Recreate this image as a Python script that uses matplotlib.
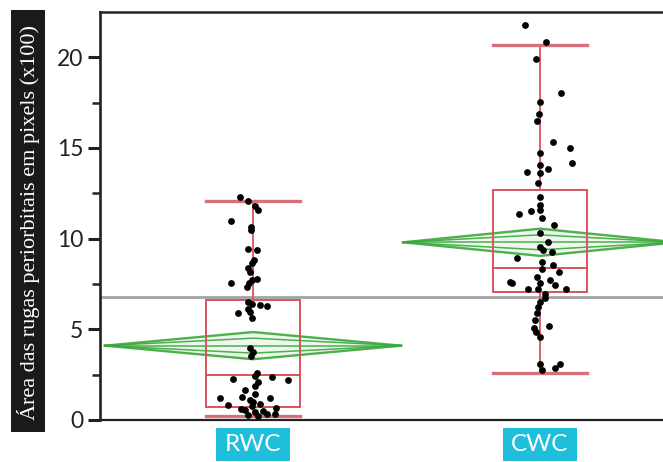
import numpy as np
import matplotlib.pyplot as plt
from matplotlib.patches import Rectangle

# groups
groups = ["RWC", "CWC"]

# box plot summary (x100 pixels)
q1 = [0.7, 7.05]
median = [2.5, 8.4]
q3 = [6.6, 12.7]
whisk_lo = [0.2, 2.6]
whisk_hi = [12.1, 20.7]

# means diamonds: mean and 95% CI half-width
means = [4.1, 9.8]
ci_half = [0.75, 0.75]
grand_mean = 6.8

# individual points (value, horizontal jitter in group units)
rwc_vals = [12.3, 12.1, 11.8, 11.6, 11.0, 10.65, 10.5, 9.45, 9.35, 8.85, 8.65, 8.4,
            8.15, 7.8, 7.55, 7.55, 7.35, 7.7, 6.5, 6.4, 6.35, 6.3, 6.1, 5.9, 5.95,
            5.6, 3.95, 3.75, 3.55, 2.6, 2.4, 2.25, 2.35, 2.2, 2.1, 1.85, 1.65, 1.45,
            1.25, 1.2, 1.1, 1.2, 0.9, 0.8, 0.75, 0.65, 0.55, 0.45, 0.35, 0.3, 0.2,
            0.35, 0.5, 0.6, 1.0]
rwc_jit = [-0.045, -0.017, 0.007, 0.017, -0.078, -0.007, -0.007, -0.017, 0.014, 0.003,
           -0.005, -0.017, -0.010, 0.013, -0.075, -0.014, -0.022, -0.005, -0.017, -0.003,
           0.024, 0.049, -0.017, -0.052, -0.010, -0.003, -0.010, 0.000, -0.007, 0.013,
           0.007, -0.069, 0.065, 0.123, 0.017, 0.007, -0.028, 0.007, -0.038, -0.115,
           -0.010, 0.059, 0.024, -0.087, -0.005, 0.080, -0.028, 0.007, 0.049, -0.017,
           0.017, 0.077, 0.035, -0.040, 0.000]
cwc_vals = [21.8, 20.85, 19.9, 18.05, 17.55, 16.9, 16.5, 15.35, 15.0, 14.7, 14.15,
            14.05, 13.85, 13.7, 13.6, 13.05, 12.3, 11.85, 11.35, 11.55, 11.6, 11.15,
            10.75, 10.3, 9.8, 9.55, 9.35, 9.25, 8.95, 8.7, 8.55, 8.35, 8.15, 7.9, 7.7,
            7.6, 7.55, 7.45, 7.25, 7.2, 7.25, 6.95, 6.75, 6.5, 6.25, 5.9, 5.5, 5.2,
            5.1, 4.85, 4.6, 3.1, 2.85, 3.1, 2.75, 7.55]
cwc_jit = [-0.052, 0.021, -0.014, 0.073, 0.000, -0.002, -0.009, 0.047, 0.105, 0.000,
           0.110, 0.000, 0.029, -0.046, 0.000, -0.006, 0.000, 0.000, -0.072, -0.033,
           0.000, 0.006, 0.050, 0.000, 0.029, 0.000, 0.012, 0.041, -0.079, 0.006,
           0.047, 0.006, 0.066, -0.011, 0.035, -0.105, 0.000, 0.052, -0.041, -0.006,
           0.091, 0.017, 0.017, 0.000, -0.006, -0.009, -0.017, 0.033, -0.021, -0.014,
           0.000, 0.000, 0.052, 0.070, 0.006, -0.098]

fig = plt.figure(figsize=(6.63, 4.62), dpi=100)
ax = fig.add_axes([100 / 663, 42 / 462, 563 / 663, 408 / 462])

red = "#d9535c"
cap_red = "#d8707a"
green = "#3aa83a"
box_half = 0.165
diam_half = [0.516, 0.477]

ax.axhline(grand_mean, color="#a3a3a3", lw=2.0, zorder=1)

for i in range(len(groups)):
    m, c, w = means[i], ci_half[i], diam_half[i]
    xs = [i - w, i, i + w]
    ax.fill_between(xs, [m, m - c, m], [m, m + c, m], color="#cfe9cf", alpha=0.35, lw=0, zorder=2)
    for d in [c, 0.55 * c, 0.0, -0.55 * c, -c]:
        lw = 1.7 if abs(d) == c else 1.1
        ax.plot(xs, [m, m + d, m], color=green, lw=lw, alpha=0.9, zorder=3)

    ax.add_patch(Rectangle((i - box_half, q1[i]), 2 * box_half, q3[i] - q1[i],
                           fill=False, ec=red, lw=1.4, zorder=4))
    ax.plot([i - box_half, i + box_half], [median[i]] * 2, color=red, lw=1.4, zorder=4)
    ax.plot([i, i], [q3[i], whisk_hi[i]], color=red, lw=1.3, zorder=4)
    ax.plot([i, i], [whisk_lo[i], q1[i]], color=red, lw=1.3, zorder=4)
    ax.plot([i - box_half, i + box_half], [whisk_hi[i]] * 2, color=cap_red, lw=2.4, zorder=4)
    ax.plot([i - box_half, i + box_half], [whisk_lo[i]] * 2, color=cap_red, lw=2.4, zorder=4)

ax.scatter(np.array(rwc_jit), rwc_vals, s=24, color="black", zorder=6, lw=0)
ax.scatter(1 + np.array(cwc_jit), cwc_vals, s=24, color="black", zorder=6, lw=0)

ax.set_xlim(-0.533, 1.4286)
ax.set_ylim(0, 22.5)

ax.spines["right"].set_visible(False)
ax.spines["left"].set_linewidth(1.9)
ax.spines["top"].set_linewidth(1.8)
ax.spines["bottom"].set_linewidth(1.6)
for s in ax.spines.values():
    s.set_color("#222222")

ax.set_yticks([0, 5, 10, 15, 20])
ax.set_yticks([2.5, 7.5, 12.5, 17.5], minor=True)
ax.tick_params(axis="y", which="major", length=9, width=2.2, pad=3, labelsize=16.5, colors="#222222")
ax.tick_params(axis="y", which="minor", length=6, width=1.8, colors="#222222")
for t in ax.get_yticklabels():
    t.set_fontfamily("Lato")
ax.set_xticks([])

# cyan category labels under the axis
xt = ax.get_xaxis_transform()
for i, g in enumerate(groups):
    ax.add_patch(Rectangle((i - 0.129, -0.1), 0.258, 0.08, transform=xt,
                           fc="#1fbfdb", ec="none", clip_on=False))
    ax.text(i, -0.061, g, transform=xt, ha="center", va="center",
            color="white", fontsize=17.5, family="Lato")

fig.patches.append(Rectangle((11 / 663, 30 / 462), 34 / 663, 422 / 462,
                             transform=fig.transFigure, fc="#1a1a1a", ec="none"))
fig.text(28.5 / 663, 1 - 222 / 462, "Área das rugas periorbitais em pixels (x100)",
         rotation=90, ha="center", va="center", color="white", fontsize=16,
         family="Liberation Serif")

fig.savefig("out.png", dpi=100)
